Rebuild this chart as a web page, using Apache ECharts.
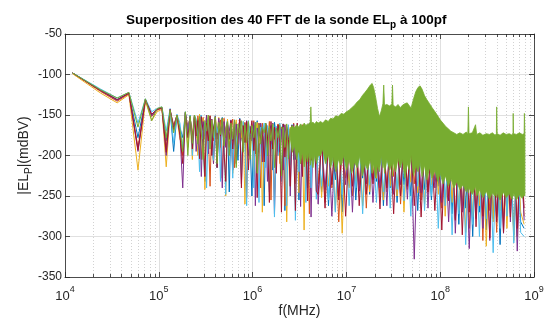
<!DOCTYPE html>
<html>
<head>
<meta charset="utf-8">
<script src="https://cdn.jsdelivr.net/npm/echarts@6/dist/echarts.min.js"></script>
<style>
  html, body { margin: 0; padding: 0; background: #fff; }
  #chart { width: 547px; height: 325px; }
</style>
</head>
<body>
<div id="chart"></div>
<script>
// FFT bin frequencies (Hz), sampled along the spectrum
const freqLow = [12000, 24000, 36000, 48000, 60000, 72000, 84000, 96000, 108000, 120000,
  132000, 144000, 156000, 168000, 180000, 192000, 204000, 216000, 228000, 240000];
const freqMid = [2.5e5, 2.61e5, 2.72e5, 2.84e5, 2.97e5, 3.1e5, 3.23e5, 3.37e5, 3.52e5, 3.67e5,
  3.83e5, 4.0e5, 4.18e5, 4.36e5, 4.55e5, 4.75e5, 4.96e5, 5.17e5, 5.4e5, 5.64e5,
  5.88e5, 6.14e5, 6.41e5, 6.69e5, 6.98e5, 7.29e5, 7.6e5, 7.94e5, 8.28e5, 8.64e5,
  9.02e5, 9.42e5, 9.83e5, 1.03e6, 1.07e6, 1.12e6, 1.17e6, 1.22e6, 1.27e6, 1.33e6,
  1.38e6, 1.44e6, 1.51e6, 1.57e6, 1.64e6, 1.71e6, 1.79e6, 1.87e6, 1.95e6, 2.03e6,
  2.12e6, 2.21e6, 2.31e6, 2.41e6, 2.52e6, 2.63e6, 2.74e6, 2.86e6, 2.99e6, 3.12e6,
  3.25e6, 3.4e6, 3.54e6, 3.7e6, 3.86e6, 4.03e6, 4.2e6, 4.39e6, 4.58e6, 4.78e6];
const freqHigh = [5.0e6, 5.44e6, 5.92e6, 6.44e6, 7.0e6, 7.62e6, 8.29e6, 9.02e6, 9.81e6, 1.07e7,
  1.16e7, 1.26e7, 1.37e7, 1.49e7, 1.63e7, 1.77e7, 1.92e7, 2.09e7, 2.28e7, 2.48e7,
  2.7e7, 2.93e7, 3.19e7, 3.47e7, 3.78e7, 4.11e7, 4.47e7, 4.86e7, 5.29e7, 5.76e7,
  6.26e7, 6.81e7, 7.41e7, 8.06e7, 8.77e7, 9.54e7, 1.04e8, 1.13e8, 1.23e8, 1.34e8,
  1.45e8, 1.58e8, 1.72e8, 1.87e8, 2.04e8, 2.22e8, 2.41e8, 2.62e8, 2.85e8, 3.1e8,
  3.38e8, 3.67e8, 4.0e8, 4.35e8, 4.73e8, 5.15e8, 5.6e8, 6.09e8, 6.63e8, 7.21e8,
  7.85e8];

// |EL_p| in mdBV for each acquisition
const blueLow = [-98,-119,-131,-123,-178,-131,-150,-143,-141,-182,-144,-195,-150,-166,-178,-147,-172,-151,-190,-152];
const blueMid = [-152,-178,-165,-150,-190,-232,-155,-172,-154,-185,
  -168,-151,-215,-158,-176,-153,-190,-170,-156,-245,
  -157,-182,-165,-159,-206,-154,-174,-192,-160,-170,
  -158,-185,-250,-162,-178,-157,-196,-161,-172,-262,
  -160,-182,-170,-163,-218,-159,-176,-195,-164,-172,
  -161,-268,-165,-184,-174,-162,-205,-166,-180,-255,
  -163,-188,-172,-165,-240,-160,-182,-176,-164,-210];
const blueHigh = [-180,-245,-178,-262,-182,-230,-176,-270,-180,-238,
  -178,-255,-183,-228,-179,-248,-181,-232,-177,-262,
  -182,-240,-178,-258,-180,-236,-184,-250,-179,-268,
  -181,-242,-178,-255,-183,-238,-180,-262,-185,-272,
  -182,-285,-186,-265,-183,-300,-187,-270,-184,-292,
  -186,-278,-183,-310,-188,-275,-185,-298,-187,-282,
  -290];

const orangeLow = [-98,-121,-133,-124,-190,-132,-152,-144,-142,-190,-145,-162,-151,-170,-200,-148,-165,-153,-175,-150];
const orangeMid = [-178,-151,-166,-205,-153,-180,-150,-172,-238,-155,
  -182,-152,-170,-162,-156,-228,-154,-178,-158,-190,
  -168,-155,-215,-160,-184,-157,-175,-188,-159,-252,
  -161,-180,-170,-157,-198,-163,-176,-240,-160,-174,
  -164,-190,-158,-255,-166,-180,-170,-161,-205,-165,
  -176,-262,-163,-188,-167,-178,-160,-235,-166,-182,
  -210,-162,-185,-168,-178,-272,-161,-192,-165,-180];
const orangeHigh = [-235,-176,-258,-180,-240,-178,-282,-181,-228,-177,
  -250,-182,-236,-178,-265,-180,-230,-183,-252,-179,
  -245,-181,-226,-178,-260,-184,-242,-180,-235,-183,
  -255,-179,-248,-182,-232,-180,-265,-184,-250,-186,
  -278,-183,-262,-187,-290,-184,-272,-188,-305,-185,
  -268,-187,-295,-184,-280,-188,-262,-185,-300,-187,
  -275];

const yellowLow = [-99,-123,-135,-125,-218,-133,-157,-146,-143,-214,-147,-170,-153,-180,-185,-150,-190,-155,-205,-153];
const yellowMid = [-166,-200,-149,-176,-154,-242,-160,-172,-151,-188,
  -210,-156,-175,-153,-190,-160,-168,-250,-155,-182,
  -159,-222,-170,-156,-186,-161,-178,-158,-260,-168,
  -160,-192,-162,-226,-175,-159,-185,-164,-270,-178,
  -161,-200,-166,-178,-160,-256,-182,-163,-210,-167,
  -176,-162,-282,-184,-165,-196,-161,-190,-168,-246,
  -164,-180,-292,-166,-188,-160,-215,-170,-162,-196];
const yellowHigh = [-178,-252,-181,-238,-177,-268,-180,-296,-183,-240,
  -179,-232,-182,-262,-178,-245,-184,-228,-180,-255,
  -177,-238,-183,-250,-179,-270,-182,-233,-180,-246,
  -184,-260,-179,-236,-183,-248,-181,-275,-186,-258,
  -183,-268,-187,-295,-184,-276,-188,-262,-185,-312,
  -187,-282,-184,-268,-188,-290,-185,-305,-187,-270,
  -285];

const purpleLow = [-98,-120,-132,-123,-195,-131,-151,-143,-141,-200,-143,-165,-150,-172,-240,-147,-168,-152,-182,-151];
const purpleMid = [-195,-172,-153,-226,-158,-176,-150,-198,-165,-155,
  -210,-160,-180,-154,-172,-240,-158,-190,-162,-170,
  -156,-218,-178,-161,-186,-158,-235,-163,-174,-157,
  -200,-164,-182,-159,-262,-166,-176,-160,-208,-170,
  -163,-232,-166,-186,-160,-272,-176,-164,-196,-167,
  -218,-162,-180,-166,-250,-172,-161,-205,-168,-184,
  -263,-164,-178,-167,-210,-160,-276,-182,-165,-195];
const purpleHigh = [-260,-179,-242,-182,-275,-178,-250,-183,-236,-180,
  -270,-177,-244,-183,-235,-179,-258,-181,-240,-178,
  -262,-182,-248,-179,-236,-185,-254,-180,-328,-183,
  -246,-179,-265,-184,-240,-181,-258,-186,-282,-183,
  -296,-187,-270,-184,-315,-188,-278,-185,-290,-187,
  -305,-184,-275,-188,-296,-185,-282,-187,-318,-184,
  -280];

const cyanLow = [-98,-118,-129,-122,-160,-130,-146,-142,-140,-170,-142,-185,-149,-160,-190,-146,-175,-150,-200,-150];
const cyanMid = [-155,-172,-220,-150,-180,-159,-240,-164,-153,-190,
  -206,-156,-172,-162,-232,-155,-182,-248,-160,-176,
  -163,-228,-156,-192,-168,-160,-222,-158,-186,-262,
  -157,-178,-164,-240,-159,-190,-258,-165,-174,-160,
  -215,-163,-245,-180,-161,-276,-164,-200,-160,-232,
  -167,-184,-262,-162,-212,-166,-178,-280,-165,-220,
  -162,-194,-168,-258,-174,-161,-240,-166,-186,-254];
const cyanHigh = [-182,-238,-179,-255,-183,-270,-178,-248,-181,-262,
  -184,-240,-180,-272,-178,-236,-183,-258,-181,-245,
  -179,-265,-184,-242,-180,-256,-178,-275,-183,-238,
  -181,-268,-185,-250,-179,-290,-183,-262,-186,-298,
  -184,-272,-188,-310,-185,-285,-187,-300,-183,-278,
  -188,-320,-184,-290,-187,-275,-185,-308,-188,-295,
  -300];

const darkRedLow = [-98,-120,-131,-123,-193,-131,-149,-143,-141,-196,-143,-168,-150,-175,-210,-147,-178,-152,-192,-151];
const darkRedMid = [-176,-157,-204,-152,-170,-226,-160,-182,-151,-200,
  -166,-156,-215,-161,-176,-154,-196,-232,-162,-180,
  -157,-192,-160,-210,-172,-155,-240,-163,-184,-158,
  -218,-174,-157,-194,-163,-252,-160,-182,-166,-208,
  -161,-176,-258,-158,-192,-165,-222,-162,-184,-270,
  -161,-202,-167,-180,-238,-163,-190,-268,-160,-196,
  -166,-226,-163,-184,-256,-162,-206,-165,-176,-244];
const darkRedHigh = [-248,-180,-265,-177,-236,-182,-255,-179,-275,-183,
  -238,-178,-262,-182,-248,-179,-235,-184,-266,-180,
  -240,-183,-272,-178,-250,-182,-238,-185,-262,-180,
  -276,-183,-245,-186,-268,-182,-292,-185,-256,-188,
  -280,-184,-298,-187,-270,-185,-288,-189,-275,-186,
  -302,-184,-282,-188,-295,-185,-276,-187,-290,-185,
  -265];

// last acquisition, drawn on top of all the others (line up to 2.52 MHz)
const greenLow = [-98,-119,-129,-122,-165,-130,-157,-142,-140,-178,-144,-172,-150,-167,-195,-146,-200,-151,-185,-150];
const greenMid = [-158,-186,-152,-172,-205,-157,-170,-150,-192,-156,
  -178,-153,-210,-159,-174,-154,-188,-166,-158,-200,
  -160,-180,-156,-215,-161,-172,-157,-196,-162,-184,
  -158,-205,-163,-178,-159,-222,-162,-186,-165,-172,
  -160,-200,-164,-182,-161,-215,-166,-178,-162,-225,
  -165,-190,-161,-204,-167];
// beyond 2.5 MHz the same trace is dense enough to read as a solid band: its peaks and troughs
const bandFreq = [2.52e6, 2.65e6, 2.8e6, 2.95e6, 3.1e6, 3.25e6, 3.4e6, 3.55e6, 3.7e6, 3.85e6,
  4.0e6, 4.12e6, 4.18e6, 4.24e6, 4.4e6, 4.6e6, 4.8e6,
  5.0e6, 5.3e6, 5.6e6, 6.0e6, 6.4e6, 6.8e6, 7.2e6, 7.7e6, 8.2e6, 8.8e6,
  9.4e6, 1.0e7, 1.07e7, 1.14e7, 1.22e7, 1.3e7, 1.39e7, 1.48e7, 1.58e7, 1.68e7,
  1.8e7, 1.88e7, 1.95e7, 2.05e7, 2.15e7, 2.25e7, 2.35e7, 2.45e7, 2.5e7, 2.55e7,
  2.7e7, 2.9e7, 3.05e7, 3.1e7, 3.15e7, 3.35e7, 3.55e7, 3.75e7, 3.95e7, 4.2e7,
  4.45e7, 4.7e7, 4.9e7, 5.2e7, 5.5e7, 5.8e7, 6.1e7, 6.4e7, 6.8e7, 7.2e7,
  7.7e7, 8.2e7, 8.8e7, 9.4e7, 1.0e8, 1.07e8, 1.14e8, 1.22e8, 1.3e8, 1.4e8,
  1.5e8, 1.62e8, 1.75e8, 1.9e8, 1.97e8, 2.0e8, 2.03e8, 2.2e8, 2.38e8, 2.45e8,
  2.65e8, 2.85e8, 3.1e8, 3.35e8, 3.6e8, 3.85e8, 3.97e8, 4.0e8, 4.05e8, 4.35e8,
  4.7e8, 5.05e8, 5.45e8, 5.85e8, 5.97e8, 6.0e8, 6.05e8, 6.5e8, 7.0e8, 7.5e8,
  7.85e8, 7.9e8, 8.0e8];
const bandTop = [-167,-163,-166,-162,-165,-161,-164,-160,-163,-161,
  -162,-158,-140,-160,-159,-161,-158,
  -160,-158,-160,-156,-158,-154,-155,-151,-152,-148,
  -149,-146,-144,-141,-138,-134,-131,-126,-122,-118,
  -113,-111,-116,-128,-142,-152,-145,-136,-113,-138,
  -137,-139,-136,-113,-138,-140,-137,-141,-138,-136,
  -135,-139,-141,-130,-121,-116,-114,-118,-126,-131,
  -136,-141,-146,-151,-156,-160,-164,-167,-170,-172,
  -174,-172,-174,-171,-173,-140,-173,-172,-162,-174,
  -172,-175,-173,-174,-172,-175,-173,-140,-173,-175,
  -172,-174,-173,-175,-172,-148,-173,-174,-172,-174,
  -173,-148,-173];
const bandBottom = [-178,-196,-188,-205,-192,-210,-195,-214,-198,-208,
  -196,-212,-205,-200,-215,-198,-210,
  -200,-200,-192,-210,-198,-215,-202,-220,-205,-212,
  -200,-218,-205,-222,-208,-215,-200,-225,-210,-218,
  -205,-222,-210,-228,-212,-220,-200,-215,-208,-222,
  -205,-218,-210,-225,-208,-220,-203,-215,-205,-228,
  -210,-218,-200,-225,-212,-220,-208,-226,-212,-230,
  -215,-228,-218,-232,-222,-235,-225,-238,-228,-240,
  -232,-242,-236,-245,-238,-246,-240,-248,-238,-250,
  -242,-252,-244,-254,-246,-250,-244,-252,-246,-255,
  -245,-252,-247,-254,-248,-250,-246,-255,-248,-253,
  -248,-250,-248];

const traceColors = ['#0072BD', '#D95319', '#EDB120', '#7E2F8E', '#4DBEEE', '#A2142F'];
const traceValues = [
  [blueLow, blueMid, blueHigh],
  [orangeLow, orangeMid, orangeHigh],
  [yellowLow, yellowMid, yellowHigh],
  [purpleLow, purpleMid, purpleHigh],
  [cyanLow, cyanMid, cyanHigh],
  [darkRedLow, darkRedMid, darkRedHigh]
];
const greenColor = '#77AC30';

const FONT = '"Liberation Sans", Arial, Helvetica, sans-serif';
const INK = '#262626';
const Y_MIN = -350, Y_MAX = -50;
const LINE_W = 1;

// logarithmic minor positions: 2..9 times each decade
const minorFreq = [];
for (let n = 4; n <= 8; n++) {
  for (let k = 2; k <= 9; k++) minorFreq.push(k * Math.pow(10, n));
}

function pairs(xs, ys) {
  return ys.map((y, i) => [xs[i], y]);
}

const series = [];

// dotted minor grid lines of the log axis
series.push({
  type: 'custom',
  coordinateSystem: 'cartesian2d',
  silent: true,
  z: 1,
  data: minorFreq.map(f => [f, Y_MIN]),
  encode: { x: 0, y: 1 },
  renderItem: (params, api) => {
    const f = api.value(0);
    const a = api.coord([f, Y_MIN]);
    const b = api.coord([f, Y_MAX]);
    const x = Math.round(a[0]) + 0.5;
    return {
      type: 'line',
      shape: { x1: x, y1: a[1], x2: x, y2: b[1] },
      style: { stroke: '#d2d2d2', lineWidth: 1, lineDash: [1, 2] }
    };
  }
});

const allFreq = freqLow.concat(freqMid, freqHigh);
traceValues.forEach((parts, k) => {
  series.push({
    type: 'line',
    z: 2,
    data: pairs(allFreq, parts[0].concat(parts[1], parts[2])),
    symbol: 'none',
    silent: true,
    lineStyle: { color: traceColors[k], width: LINE_W },
    itemStyle: { color: traceColors[k] }
  });
});

series.push({
  type: 'line',
  z: 2,
  data: pairs(freqLow.concat(freqMid), greenLow.concat(greenMid)),
  symbol: 'none',
  silent: true,
  lineStyle: { color: greenColor, width: LINE_W },
  itemStyle: { color: greenColor }
});

// solid band between troughs and peaks of the last trace, drawn as one outline
series.push({
  type: 'custom',
  coordinateSystem: 'cartesian2d',
  silent: true,
  z: 3,
  data: bandFreq.map((f, i) => [f, bandTop[i], bandBottom[i]]),
  encode: { x: 0, y: [1, 2] },
  renderItem: (params, api) => {
    if (params.dataIndex !== 0) return null;
    const upper = bandFreq.map((f, i) => api.coord([f, bandTop[i]]));
    const lower = bandFreq.map((f, i) => api.coord([f, bandBottom[i]])).reverse();
    return {
      type: 'polygon',
      shape: { points: upper.concat(lower) },
      style: { fill: greenColor, stroke: greenColor, lineWidth: 0.8, lineJoin: 'round' }
    };
  }
});

// minor tick marks, inside the box on top and bottom edges
series.push({
  type: 'custom',
  coordinateSystem: 'cartesian2d',
  silent: true,
  z: 4,
  data: minorFreq.map(f => [f, Y_MIN]),
  encode: { x: 0, y: 1 },
  renderItem: (params, api) => {
    const f = api.value(0);
    const a = api.coord([f, Y_MIN]);
    const b = api.coord([f, Y_MAX]);
    const x = Math.round(a[0]) + 0.5;
    return {
      type: 'group',
      children: [
        { type: 'line', shape: { x1: x, y1: a[1], x2: x, y2: a[1] - 3 }, style: { stroke: INK, lineWidth: 0.8 } },
        { type: 'line', shape: { x1: x, y1: b[1], x2: x, y2: b[1] + 3 }, style: { stroke: INK, lineWidth: 0.8 } }
      ]
    };
  }
});

const xCommon = { type: 'log', logBase: 10, min: 1e4, max: 1e9 };

const chart = echarts.init(document.getElementById('chart'), null, { renderer: 'canvas' });
chart.setOption({
  animation: false,
  backgroundColor: '#ffffff',
  title: {
    text: 'Superposition des 40 FFT de la sonde EL{s|p} à 100pf',
    left: 126,
    top: 12,
    padding: 0,
    textStyle: {
      fontFamily: FONT, fontSize: 13.5, fontWeight: 'bold', color: '#000', lineHeight: 16,
      rich: {
        s: { fontFamily: FONT, fontSize: 10, fontWeight: 'bold', color: '#000', lineHeight: 10, padding: [10, 0, 0, 0] }
      }
    }
  },
  grid: { left: 65, right: 13, top: 34, bottom: 48, containLabel: false, outerBoundsMode: 'none' },
  xAxis: [
    Object.assign({}, xCommon, {
      position: 'bottom',
      name: 'f(MHz)',
      nameLocation: 'middle',
      nameGap: 27,
      nameMoveOverlap: false,
      nameTextStyle: { fontFamily: FONT, fontSize: 14, color: INK },
      axisLine: { show: true, onZero: false, lineStyle: { color: INK, width: 0.8 } },
      axisTick: { show: true, inside: true, length: 5, lineStyle: { color: INK, width: 0.8 } },
      minorTick: { show: false },
      splitLine: { show: true, lineStyle: { color: '#e0e0e0', width: 1 } },
      minorSplitLine: { show: false },
      axisLabel: {
        margin: 12,
        formatter: v => '{b|10}{s|' + Math.round(Math.log10(v)) + '}',
        rich: {
          b: { fontFamily: FONT, fontSize: 13, color: INK, lineHeight: 14 },
          s: { fontFamily: FONT, fontSize: 9, color: INK, lineHeight: 10, padding: [0, 0, 12, 0] }
        }
      }
    }),
    Object.assign({}, xCommon, {
      position: 'top',
      axisLine: { show: true, onZero: false, lineStyle: { color: INK, width: 0.8 } },
      axisTick: { show: true, inside: true, length: 5, lineStyle: { color: INK, width: 0.8 } },
      minorTick: { show: false },
      splitLine: { show: false },
      axisLabel: { show: false }
    })
  ],
  yAxis: [
    {
      type: 'value',
      position: 'left',
      min: Y_MIN,
      max: Y_MAX,
      interval: 50,
      name: '|EL{s|P}|(mdBV)',
      nameLocation: 'middle',
      nameGap: 33,
      nameRotate: 90,
      nameMoveOverlap: false,
      nameTextStyle: {
        fontFamily: FONT, fontSize: 14, color: INK, lineHeight: 16,
        rich: { s: { fontFamily: FONT, fontSize: 10, color: INK, lineHeight: 10, padding: [10, 0, 0, 0] } }
      },
      axisLine: { show: true, onZero: false, lineStyle: { color: INK, width: 0.8 } },
      axisTick: { show: true, inside: true, length: 5, lineStyle: { color: INK, width: 0.8 } },
      splitLine: { show: true, lineStyle: { color: '#e0e0e0', width: 1 } },
      axisLabel: { margin: 3, fontFamily: FONT, fontSize: 12, color: INK }
    },
    {
      type: 'value',
      position: 'right',
      min: Y_MIN,
      max: Y_MAX,
      interval: 50,
      axisLine: { show: true, onZero: false, lineStyle: { color: INK, width: 0.8 } },
      axisTick: { show: true, inside: true, length: 5, lineStyle: { color: INK, width: 0.8 } },
      splitLine: { show: false },
      axisLabel: { show: false }
    }
  ],
  series: series
});
</script>
</body>
</html>
